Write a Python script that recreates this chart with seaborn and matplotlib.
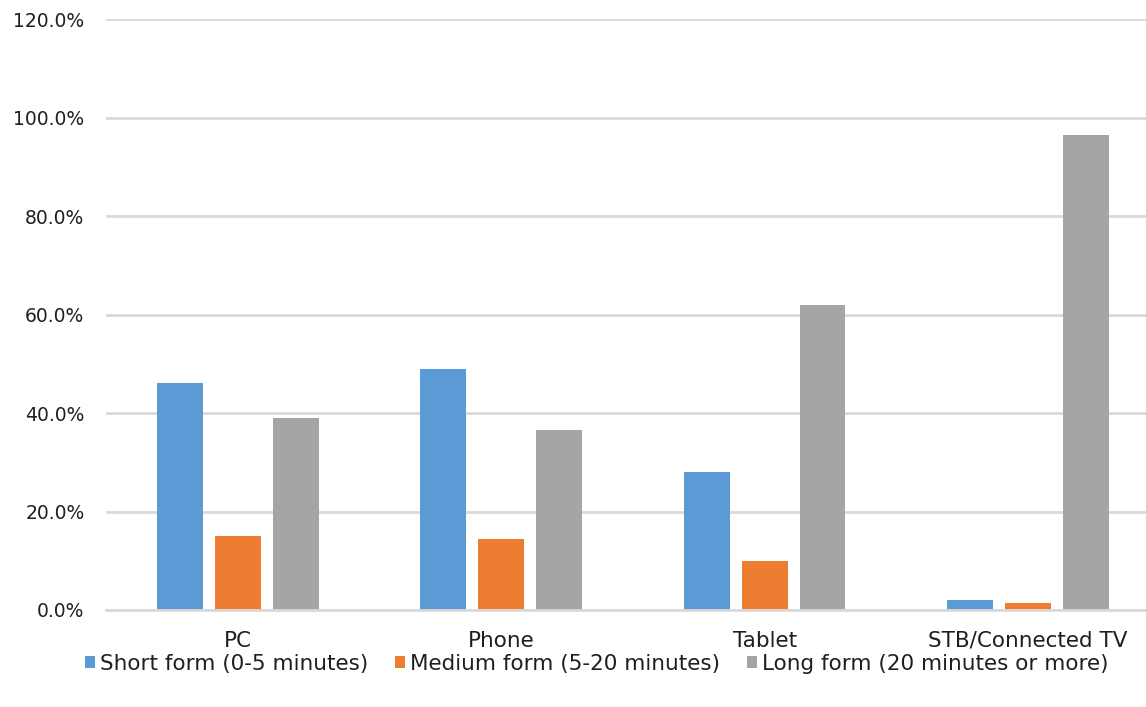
import matplotlib
matplotlib.use("Agg")
import matplotlib.pyplot as plt
import matplotlib.ticker as mticker
import pandas as pd
import seaborn as sns

# Share of viewing time by device and video length (%)
devices = ["PC", "Phone", "Tablet", "STB/Connected TV"]
series_names = ["Short form (0-5 minutes)", "Medium form (5-20 minutes)", "Long form (20 minutes or more)"]
short_form = [46.0, 49.0, 28.0, 2.0]
medium_form = [15.0, 14.5, 10.0, 1.5]
long_form = [39.0, 36.5, 62.0, 96.5]
colors = ["#5B9BD5", "#ED7D31", "#A5A5A5"]
y_ticks = [0, 20, 40, 60, 80, 100, 120]

rows = []
for name, vals in zip(series_names, [short_form, medium_form, long_form]):
    for d, v in zip(devices, vals):
        rows.append({"Device": d, "Form": name, "Share": v})
df = pd.DataFrame(rows)

sns.set_theme(style="white")
plt.rcParams["font.family"] = ["DejaVu Sans"]

fig = plt.figure(figsize=(11.46, 7.07), dpi=100)
# the plot area runs slightly past the right edge of the canvas
ax = fig.add_axes([0.0928, 0.1372, 0.919, 0.8359])

sns.barplot(data=df, x="Device", y="Share", hue="Form", order=devices,
            hue_order=series_names, palette=colors, width=0.66, gap=0.207,
            saturation=1, linewidth=0, ax=ax, legend=True)

ax.set_ylim(0, 120)
ax.set_xlim(-0.5, 3.5)
ax.set_yticks(y_ticks)
ax.yaxis.set_major_formatter(mticker.FuncFormatter(lambda v, _: f"{v:.1f}%"))
ax.grid(axis="y", color="#D9D9D9", linewidth=2)
ax.set_axisbelow(True)
for s in ["top", "right", "left"]:
    ax.spines[s].set_visible(False)
ax.spines["bottom"].set_color("#D9D9D9")
ax.spines["bottom"].set_linewidth(2)
ax.tick_params(axis="both", length=0, labelcolor="#1F1F1F")
ax.tick_params(axis="y", pad=15.8, labelsize=13.5)
ax.tick_params(axis="x", pad=15, labelsize=15.5)
ax.set_xlabel("")
ax.set_ylabel("")

handles, labels = ax.get_legend_handles_labels()
ax.legend_.remove()
fig.legend(handles, labels, loc="center", bbox_to_anchor=(0.5205, 0.061), ncol=3,
           frameon=False, fontsize=15.5, handlelength=0.47, handleheight=0.47,
           handletextpad=0.23, columnspacing=1.25, labelcolor="#1F1F1F")

fig.savefig("out.png", dpi=100)
